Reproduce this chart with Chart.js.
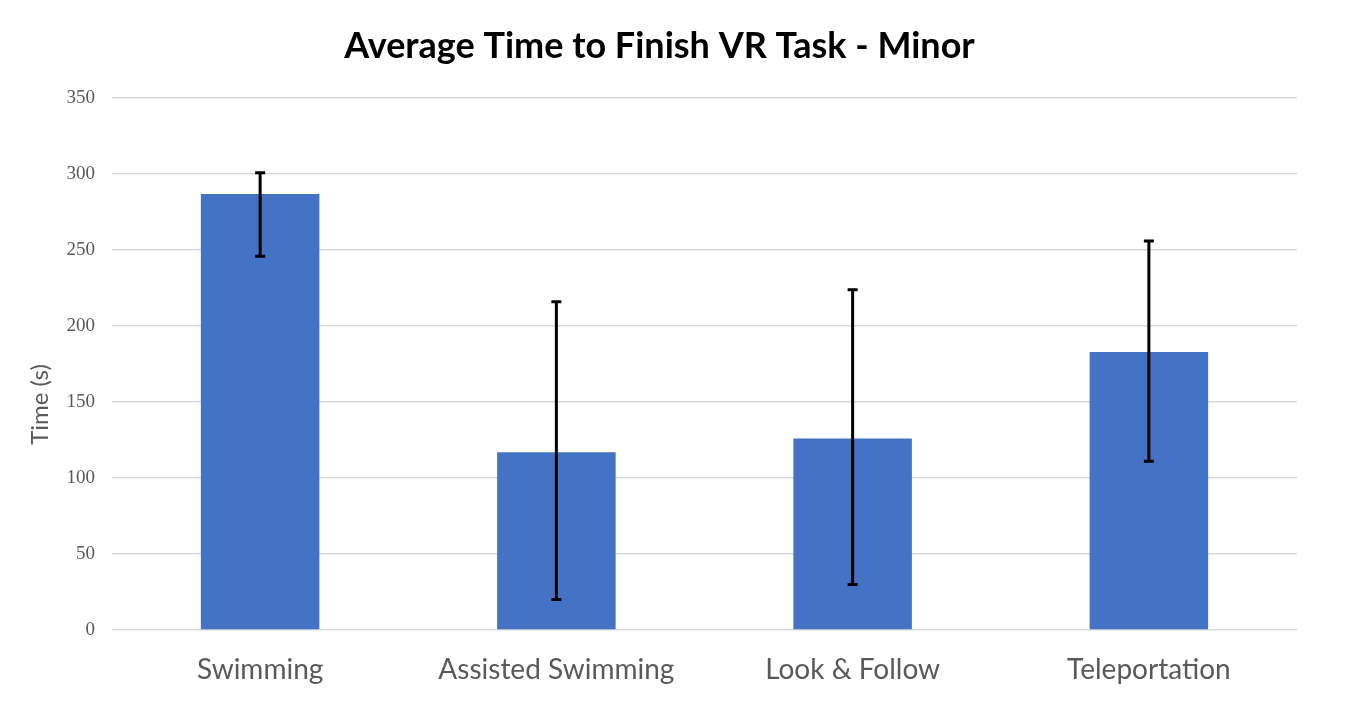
<!DOCTYPE html>
<html>
<head>
<meta charset="utf-8">
<script src="https://cdn.jsdelivr.net/npm/chart.js@4"></script>
<style>
  html, body { margin: 0; padding: 0; background: #fff; }
  #wrap { width: 1358px; height: 712px; }
</style>
</head>
<body>
<div id="wrap"><canvas id="bar-chart"></canvas></div>
<script>
// data
const categories = ["Swimming", "Assisted Swimming", "Look & Follow", "Teleportation"];
const meanTime = [287, 117, 126, 183];
const errLow = [246, 20, 30, 111];
const errHigh = [301, 216, 224, 256];
const yTicks = [0, 50, 100, 150, 200, 250, 300, 350];

// draws the black whiskers on top of the bars
const errorBars = {
  id: "errorBars",
  afterDatasetsDraw(chart) {
    const ctx = chart.ctx;
    const y = chart.scales.y;
    const bars = chart.getDatasetMeta(0).data;
    ctx.save();
    ctx.strokeStyle = "#000";
    ctx.lineWidth = 3;
    bars.forEach(function (bar, i) {
      const top = y.getPixelForValue(errHigh[i]);
      const bot = y.getPixelForValue(errLow[i]);
      ctx.beginPath();
      ctx.moveTo(bar.x, top);
      ctx.lineTo(bar.x, bot);
      ctx.moveTo(bar.x - 5, top);
      ctx.lineTo(bar.x + 5, top);
      ctx.moveTo(bar.x - 5, bot);
      ctx.lineTo(bar.x + 5, bot);
      ctx.stroke();
    });
    ctx.restore();
  },
};

// y axis title, sits a bit below the middle like in the original
const yTitle = {
  id: "yTitle",
  afterDraw(chart) {
    const ctx = chart.ctx;
    const area = chart.chartArea;
    ctx.save();
    ctx.translate(40, area.top + (area.bottom - area.top) * 0.576);
    ctx.rotate(-Math.PI / 2);
    ctx.fillStyle = "#595959";
    ctx.font = "24px Lato";
    ctx.textAlign = "center";
    ctx.textBaseline = "middle";
    ctx.fillText("Time (s)", 0, 0);
    ctx.restore();
  },
};

document.addEventListener("DOMContentLoaded", function () {
  new Chart(document.getElementById("bar-chart"), {
    type: "bar",
    data: {
      labels: categories,
      datasets: [
        {
          label: "Time (s)",
          backgroundColor: "#4472c4",
          data: meanTime,
          barPercentage: 0.4,
          categoryPercentage: 1,
        },
      ],
    },
    options: {
      responsive: true,
      maintainAspectRatio: false,
      animation: false,
      layout: { padding: { left: 22, right: 61, top: 0, bottom: 0 } },
      plugins: {
        legend: { display: false },
        tooltip: { enabled: false },
        title: {
          display: true,
          text: "Average Time to Finish VR Task - Minor",
          color: "#000",
          font: { family: "Lato", size: 36, weight: "bold", lineHeight: 1.2 },
          padding: { top: 25, bottom: 30 },
        },
      },
      scales: {
        x: {
          grid: { display: false, drawTicks: false },
          border: { display: false },
          ticks: {
            color: "#595959",
            font: { family: "Lato", size: 28 },
            padding: 23,
            maxRotation: 0,
          },
          afterFit(axis) { axis.height = 82; },
        },
        y: {
          min: 0,
          max: 350,
          afterBuildTicks(axis) { axis.ticks = yTicks.map(v => ({ value: v })); },
          grid: { color: "#d9d9d9", lineWidth: 1.5, drawTicks: false },
          border: { display: false },
          ticks: {
            color: "#595959",
            font: { family: "Liberation Serif", size: 19 },
            padding: 17,
          },
          afterFit(axis) { axis.width = 90; },
        },
      },
    },
    plugins: [errorBars, yTitle],
  });
});
</script>
</body>
</html>
